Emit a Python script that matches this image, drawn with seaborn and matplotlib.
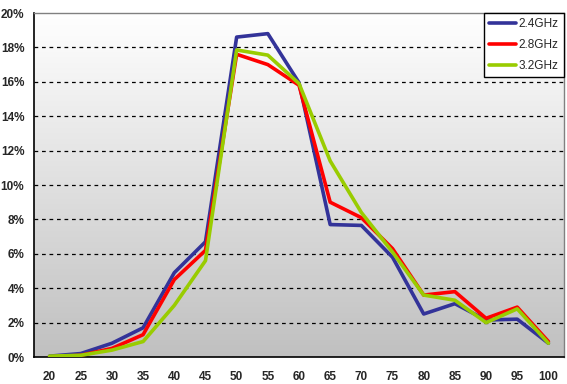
import numpy as np
import pandas as pd
import matplotlib
matplotlib.use("Agg")
import matplotlib.pyplot as plt
import seaborn as sns

# ---- data ----
categories = ["20", "25", "30", "35", "40", "45", "50", "55", "60",
              "65", "70", "75", "80", "85", "90", "95", "100"]
ghz_24 = [0.05, 0.2, 0.8, 1.7, 4.9, 6.7, 18.6, 18.8, 15.95, 7.7, 7.65, 5.8, 2.5, 3.1, 2.15, 2.2, 0.8]
ghz_28 = [0.0, 0.1, 0.5, 1.3, 4.5, 6.2, 17.6, 17.0, 15.8, 9.0, 8.1, 6.3, 3.6, 3.8, 2.25, 2.9, 0.9]
ghz_32 = [0.05, 0.1, 0.4, 0.9, 3.0, 5.6, 17.85, 17.55, 15.9, 11.4, 8.4, 6.1, 3.6, 3.3, 2.0, 2.8, 0.8]
series_names = ["2.4GHz", "2.8GHz", "3.2GHz"]
colors = {"2.4GHz": "#333399", "2.8GHz": "#FF0000", "3.2GHz": "#99CC00"}

df = pd.concat([
    pd.DataFrame({"x": categories, "value": vals, "series": name})
    for name, vals in zip(series_names, [ghz_24, ghz_28, ghz_32])
])

sns.set_style("white")
plt.rcParams["font.family"] = ["Liberation Sans", "DejaVu Sans"]

fig = plt.figure(figsize=(5.67, 3.84), dpi=100)
ax = fig.add_axes([34 / 567, 27 / 384, 530 / 567, 344 / 384])

# gradient background (white top -> grey bottom)
grad = np.linspace(1.0, 0.0, 256).reshape(-1, 1)
ax.imshow(grad, extent=[0, 1, 0, 1], transform=ax.transAxes, aspect="auto",
          cmap=matplotlib.colors.LinearSegmentedColormap.from_list("bg", ["#c0c0c0", "#ffffff"]),
          vmin=0, vmax=1, zorder=0)

for y in range(2, 20, 2):
    ax.axhline(y, color="black", lw=0.9, ls=(0, (3, 3)), zorder=1)

sns.lineplot(data=df, x="x", y="value", hue="series", palette=colors,
             sort=False, lw=2.6, ax=ax, zorder=3)

ax.set_xlim(-0.5, len(categories) - 0.5)
ax.set_ylim(0, 20)
ax.set_xlabel("")
ax.set_ylabel("")

ax.set_xticks(range(len(categories)))
ax.set_xticklabels(categories, fontweight="bold", fontsize=8.5)
ax.set_xticks(np.arange(-0.5, len(categories), 1), minor=True)
ax.tick_params(axis="x", which="major", length=0, pad=10)
ax.tick_params(axis="x", which="minor", length=4, width=1, color="black", direction="out")

ax.set_yticks(range(0, 21, 2))
ax.set_yticklabels([f"{v}%" for v in range(0, 21, 2)], fontweight="bold", fontsize=8.5)
ax.tick_params(axis="y", length=4, width=1, color="black", direction="out", pad=3)

for side in ["left", "bottom"]:
    ax.spines[side].set_color("black")
    ax.spines[side].set_linewidth(1.2)
for side in ["top", "right"]:
    ax.spines[side].set_color("#808080")
    ax.spines[side].set_linewidth(1.0)

leg = ax.legend(loc="upper right", borderaxespad=0.0, fontsize=8.5, frameon=True,
                fancybox=False, edgecolor="black", handlelength=2.3,
                handletextpad=0.2, borderpad=0.45, labelspacing=0.75)
leg.get_frame().set_linewidth(1.0)
leg.get_frame().set_facecolor("white")
leg.get_frame().set_alpha(1.0)

fig.savefig("out.png", dpi=100)
